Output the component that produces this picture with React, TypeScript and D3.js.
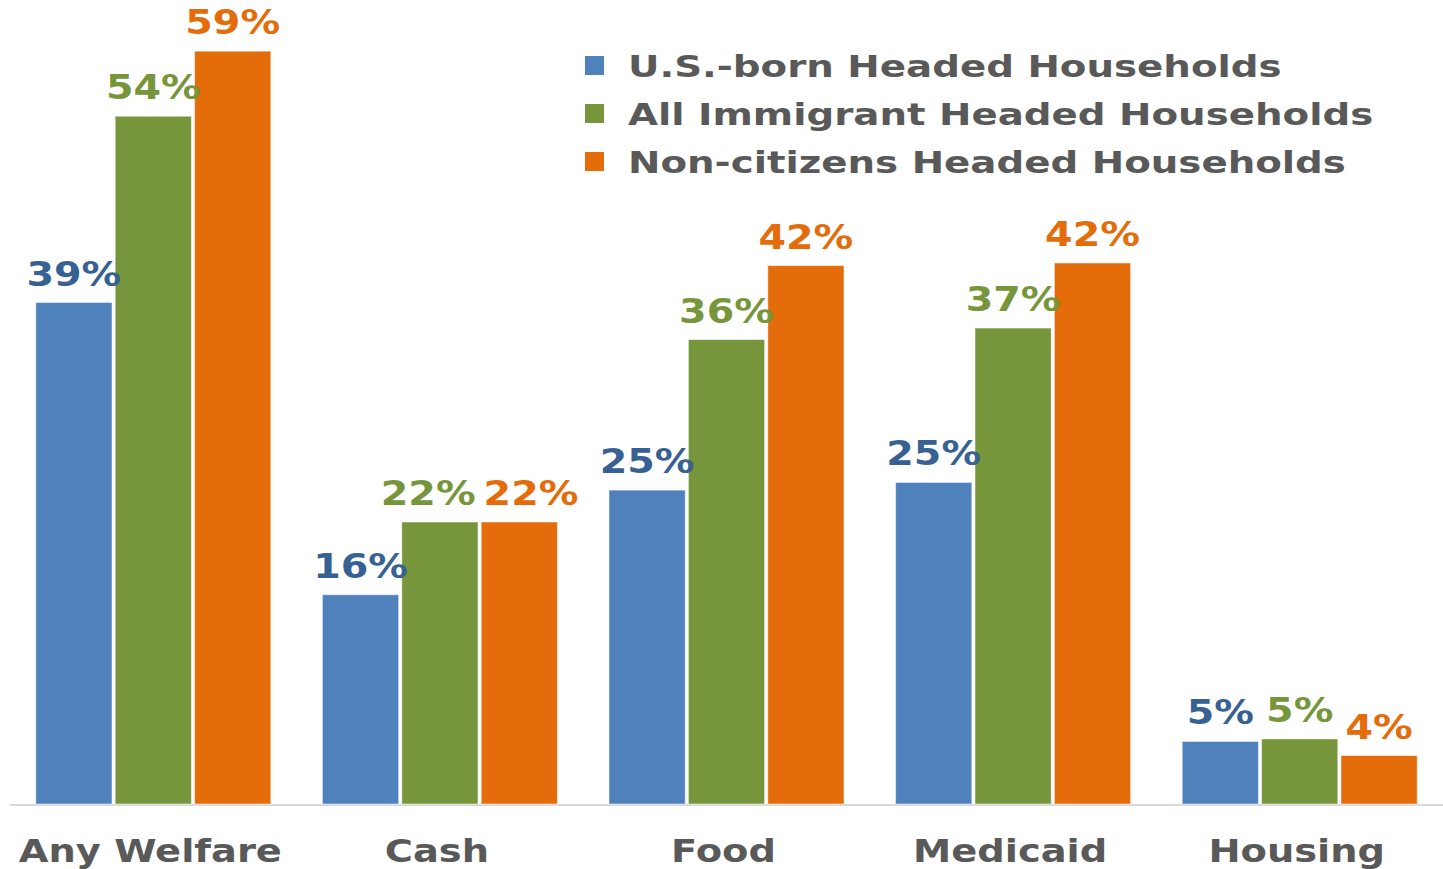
import React from "react";
import * as d3 from "d3";

const categories = ["Any Welfare", "Cash", "Food", "Medicaid", "Housing"];
const seriesNames = [
  "U.S.-born Headed Households",
  "All Immigrant Headed Households",
  "Non-citizens Headed Households",
];
const usBorn = [39.3, 16.4, 24.6, 25.2, 4.9];
const allImmigrant = [53.9, 22.1, 36.4, 37.3, 5.1];
const nonCitizen = [59.0, 22.1, 42.2, 42.4, 3.8];
const seriesValues = [usBorn, allImmigrant, nonCitizen];

const barColors = ["#4F81BD", "#77953B", "#E46C0A"];
const labelColors = ["#376193", "#77953B", "#E46C0A"];
const textColor = "#595959";
const FONT = "'DejaVu Sans', Verdana, sans-serif";

const W = 1443;
const H = 869;
const LABEL_SIZE = 33;
const SX = 1.2;

function labelWidth(s: string) {
  let w = 0;
  for (const ch of s) w += ch === "%" ? 1.002 : 0.696;
  return w * LABEL_SIZE * SX;
}

export default function App() {
  const x0 = d3.scaleBand<string>().domain(categories).range([10, 1443]).paddingInner(0.18).paddingOuter(0.09);
  const x1 = d3.scaleBand<number>().domain([0, 1, 2]).range([0, x0.bandwidth()]).paddingInner(0.04).paddingOuter(0);
  const y = d3.scaleLinear().domain([0, 60]).range([804, 804 - 12.76 * 60]);
  const bw = x1.bandwidth();

  const groups = categories.map((c, ci) => {
    const labels = seriesValues.map((vals, si) => {
      const v = vals[ci];
      const text = `${Math.round(v)}%`;
      return { si, v, text, cx: x1(si)! + bw / 2, y: y(v) - 17, w: labelWidth(text) };
    });
    // resolve collisions between neighbouring labels at similar heights
    for (let iter = 0; iter < 5; iter++) {
      for (let i = 0; i < labels.length - 1; i++) {
        const a = labels[i];
        const b = labels[i + 1];
        if (Math.abs(a.y - b.y) < 30) {
          const need = (a.w + b.w) / 2 + 8;
          const have = b.cx - a.cx;
          if (have < need) {
            const d = (need - have) / 2;
            a.cx -= d;
            b.cx += d;
          }
        }
      }
    }
    return { c, ci, labels };
  });

  return (
    <svg width={W} height={H} style={{ position: "absolute", left: 0, top: 0, background: "#fff" }} fontFamily={FONT}>
      <line x1={10} x2={1443} y1={y(0) + 1} y2={y(0) + 1} stroke="#d9d9d9" strokeWidth={2} />
      {groups.map(({ c, ci, labels }) => (
        <g key={c} transform={`translate(${x0(c)},0)`}>
          {seriesValues.map((vals, si) => {
            const v = vals[ci];
            return (
              <rect
                key={si}
                x={x1(si)!}
                y={y(v)}
                width={bw}
                height={y(0) - y(v)}
                fill={barColors[si]}
                stroke="#ffffff"
                strokeOpacity={0.5}
                strokeWidth={1}
              />
            );
          })}
          {labels.map((l) => (
            <text
              key={l.si}
              transform={`translate(${l.cx},${l.y}) scale(${SX},1)`}
              textAnchor="middle"
              fontSize={LABEL_SIZE}
              fontWeight="bold"
              fill={labelColors[l.si]}
            >
              {l.text}
            </text>
          ))}
          <text
            transform={`translate(${x0.bandwidth() / 2 - 3},862) scale(${SX},1)`}
            textAnchor="middle"
            fontSize={32}
            fontWeight="bold"
            fill={textColor}
          >
            {c}
          </text>
        </g>
      ))}
      {seriesNames.map((n, i) => (
        <g key={n} transform={`translate(585,${65 + i * 48})`}>
          <rect x={0} y={-9} width={19} height={19} fill={barColors[i]} />
          <text transform={`translate(43,12) scale(1.25,1)`} fontSize={31} fontWeight="bold" fill={textColor}>
            {n}
          </text>
        </g>
      ))}
    </svg>
  );
}
